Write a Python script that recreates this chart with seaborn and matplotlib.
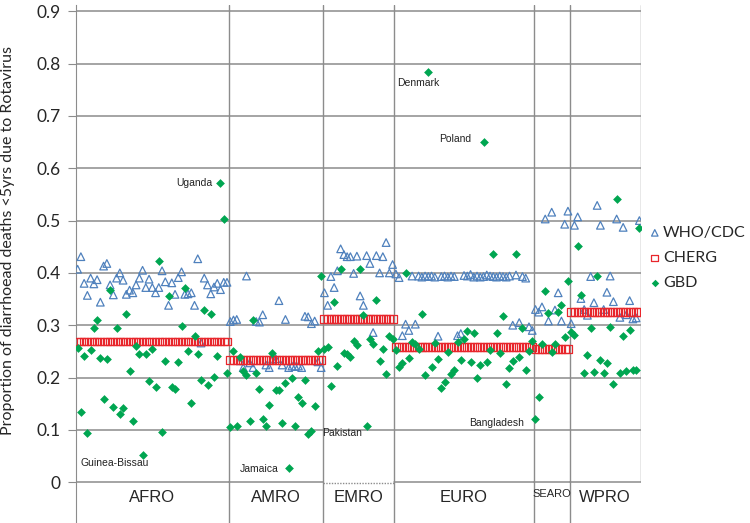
import numpy as np
import pandas as pd
import matplotlib
matplotlib.use("Agg")
import matplotlib.pyplot as plt
import seaborn as sns

# WHO regions and number of countries plotted in each
regions = ["AFRO", "AMRO", "EMRO", "EURO", "SEARO", "WPRO"]
region_counts = [47, 29, 22, 43, 11, 22]

# CHERG estimate is one value per region
cherg_region = [0.269, 0.234, 0.312, 0.259, 0.255, 0.326]

who_afro = [0.407, 0.431, 0.380, 0.357, 0.390, 0.379, 0.387, 0.344, 0.413, 0.418,
            0.377, 0.358, 0.390, 0.400, 0.386, 0.359, 0.367, 0.362, 0.377, 0.390,
            0.405, 0.372, 0.388, 0.372, 0.362, 0.372, 0.404, 0.383, 0.338, 0.381,
            0.359, 0.391, 0.402, 0.359, 0.360, 0.362, 0.338, 0.427, 0.266, 0.390,
            0.377, 0.360, 0.373, 0.380, 0.368, 0.382, 0.382]
who_amro = [0.307, 0.310, 0.311, 0.232, 0.219, 0.394, 0.228, 0.219, 0.307, 0.306,
            0.320, 0.224, 0.219, 0.235, 0.236, 0.347, 0.224, 0.311, 0.219, 0.222,
            0.221, 0.222, 0.219, 0.317, 0.316, 0.303, 0.308, 0.230, 0.219]
who_emro = [0.362, 0.338, 0.393, 0.372, 0.404, 0.446, 0.435, 0.431, 0.431, 0.399,
            0.432, 0.356, 0.338, 0.433, 0.418, 0.286, 0.433, 0.400, 0.431, 0.458,
            0.400, 0.416]
who_euro = [0.398, 0.391, 0.280, 0.302, 0.290, 0.394, 0.302, 0.394, 0.392, 0.394,
            0.393, 0.394, 0.392, 0.279, 0.393, 0.394, 0.392, 0.394, 0.393, 0.280,
            0.284, 0.395, 0.394, 0.397, 0.392, 0.394, 0.392, 0.393, 0.396, 0.394,
            0.393, 0.392, 0.394, 0.393, 0.392, 0.394, 0.300, 0.396, 0.305, 0.393,
            0.390, 0.297, 0.290]
who_searo = [0.330, 0.325, 0.335, 0.503, 0.308, 0.516, 0.329, 0.362, 0.308, 0.493,
             0.518]
who_wpro = [0.303, 0.491, 0.507, 0.351, 0.330, 0.319, 0.393, 0.343, 0.529, 0.491,
            0.330, 0.363, 0.394, 0.345, 0.503, 0.315, 0.487, 0.320, 0.347, 0.312,
            0.314, 0.500]

gbd_afro = [0.257, 0.134, 0.241, 0.094, 0.252, 0.294, 0.310, 0.237, 0.159, 0.235,
            0.367, 0.144, 0.294, 0.131, 0.141, 0.321, 0.212, 0.116, 0.260, 0.245,
            0.052, 0.245, 0.194, 0.254, 0.182, 0.423, 0.096, 0.231, 0.356, 0.182,
            0.178, 0.229, 0.298, 0.372, 0.250, 0.152, 0.279, 0.245, 0.195, 0.329,
            0.185, 0.321, 0.201, 0.241, 0.571, 0.503, 0.208]
gbd_amro = [0.105, 0.250, 0.107, 0.240, 0.213, 0.205, 0.116, 0.310, 0.208, 0.178,
            0.121, 0.107, 0.148, 0.246, 0.176, 0.177, 0.113, 0.189, 0.027, 0.199,
            0.108, 0.163, 0.152, 0.195, 0.092, 0.098, 0.145, 0.250, 0.394]
gbd_emro = [0.254, 0.259, 0.184, 0.345, 0.222, 0.408, 0.247, 0.245, 0.240, 0.269,
            0.263, 0.408, 0.319, 0.107, 0.273, 0.265, 0.349, 0.232, 0.254, 0.207,
            0.279, 0.273]
gbd_euro = [0.252, 0.220, 0.227, 0.399, 0.238, 0.268, 0.265, 0.255, 0.322, 0.204,
            0.783, 0.220, 0.266, 0.236, 0.180, 0.192, 0.249, 0.207, 0.214, 0.268,
            0.233, 0.274, 0.288, 0.229, 0.286, 0.200, 0.224, 0.651, 0.230, 0.252,
            0.437, 0.286, 0.247, 0.317, 0.187, 0.218, 0.232, 0.436, 0.240, 0.294,
            0.215, 0.250, 0.270]
gbd_searo = [0.120, 0.163, 0.265, 0.366, 0.324, 0.249, 0.265, 0.326, 0.339, 0.277,
             0.385]
gbd_wpro = [0.287, 0.282, 0.451, 0.357, 0.209, 0.243, 0.294, 0.210, 0.395, 0.233,
            0.208, 0.228, 0.296, 0.187, 0.542, 0.209, 0.280, 0.212, 0.291, 0.214,
            0.215, 0.486]

# labelled countries: (name, region, position within region)
labels = [("Guinea-Bissau", "AFRO", 20), ("Uganda", "AFRO", 44),
          ("Jamaica", "AMRO", 18), ("Pakistan", "EMRO", 13),
          ("Denmark", "EURO", 10), ("Poland", "EURO", 27),
          ("Bangladesh", "SEARO", 0)]

who = who_afro + who_amro + who_emro + who_euro + who_searo + who_wpro
gbd = gbd_afro + gbd_amro + gbd_emro + gbd_euro + gbd_searo + gbd_wpro
cherg = np.repeat(cherg_region, region_counts)
n = len(who)
df = pd.DataFrame({"country": np.arange(n), "WHO/CDC": who, "CHERG": cherg, "GBD": gbd})

blue = "#4f81bd"
red = "#e8262c"
green = "#00a651"
grid = "#8c8c8c"

sns.set_style("white")
plt.rcParams["font.family"] = ["Liberation Sans", "DejaVu Sans"]

fig = plt.figure(figsize=(7.5, 5.23), dpi=100)
ax = fig.add_axes([76 / 750, 0, (641 - 76) / 750, 518 / 523])
ax.set_xlim(-0.5, n - 0.5)
ax.set_ylim(-0.078, 0.912)

bounds = np.cumsum(region_counts) - 0.5
starts = np.concatenate([[0], np.cumsum(region_counts)[:-1]]) - 0.5

# gridlines and region separators (zero line is dotted under EMRO)
for v in np.arange(0.1, 0.91, 0.1):
    ax.axhline(v, color=grid, lw=1.1, zorder=0)
for name, s0, b in zip(regions, starts, bounds):
    if name == "EMRO":
        ax.plot([s0, b], [-0.002, -0.002], color=grid, lw=1.0, ls=(0, (1, 1)), zorder=0)
    else:
        ax.plot([s0, b], [0, 0], color=grid, lw=1.1, zorder=0)
for b in bounds[:-1]:
    ax.axvline(b, color=grid, lw=1.0, zorder=0)
ax.plot([bounds[-1], bounds[-1]], [0, 0.912], color=grid, lw=1.0, zorder=0)

sns.scatterplot(data=df, x="country", y="WHO/CDC", marker="^", s=30, color=blue,
                linewidth=0.9, ax=ax, legend=False, zorder=3)
c_who = ax.collections[-1]
c_who.set_facecolor("none")
c_who.set_edgecolor(blue)
sns.scatterplot(data=df, x="country", y="CHERG", marker="s", s=32, color=red,
                linewidth=0.9, ax=ax, legend=False, zorder=4)
c_cherg = ax.collections[-1]
c_cherg.set_facecolor("none")
c_cherg.set_edgecolor(red)
sns.scatterplot(data=df, x="country", y="GBD", marker="D", s=20, color=green,
                linewidth=0, ax=ax, legend=False, zorder=5)
c_gbd = ax.collections[-1]

# region names under the axis
for name, s0, b in zip(regions, starts, bounds):
    if name == "SEARO":
        ax.text((s0 + b) / 2, -0.023, name, ha="center", va="center", fontsize=8,
                fontstretch="condensed")
    else:
        ax.text((s0 + b) / 2, -0.029, name, ha="center", va="center", fontsize=12)

# country labels
offsets = {"Guinea-Bissau": (-44.6, -5.8, "left"), "Uganda": (-5.8, 0, "right"),
           "Jamaica": (-7, -0.8, "right"), "Pakistan": (-32, -4.8, "left"),
           "Denmark": (-22.3, -7.3, "left"), "Poland": (-8.5, 1.5, "right"),
           "Bangladesh": (-8, -2.5, "right")}
for name, reg, pos in labels:
    i = int(starts[regions.index(reg)] + 0.5) + pos
    dx, dy, ha = offsets[name]
    ax.annotate(name, (i, gbd[i]), xytext=(dx, dy), textcoords="offset points",
                ha=ha, va="center", fontsize=7.5, color="#222222")

ax.set_xticks([])
ax.set_yticks(np.arange(0, 0.91, 0.1))
ax.set_yticklabels(["0"] + [f"{v:.1f}" for v in np.arange(0.1, 0.91, 0.1)],
                   fontsize=12.5, family="Lato")
ax.tick_params(axis="y", length=6, color=grid, pad=5, left=True)
ax.set_ylabel("Proportion of diarrhoead deaths <5yrs due to Rotavirus",
              fontsize=11.5, family="Lato")
ax.yaxis.set_label_coords(-0.108, 0.545)
for side in ["top", "right", "bottom"]:
    ax.spines[side].set_visible(False)
ax.spines["left"].set_color(grid)

fig.legend([c_who, c_cherg, c_gbd], ["WHO/CDC", "CHERG", "GBD"],
           loc="center left", bbox_to_anchor=(650 / 750, 1 - 258 / 523),
           frameon=False, handlelength=0.6, handletextpad=0.2, labelspacing=0.68,
           borderpad=0, borderaxespad=0, prop={"family": "Lato", "size": 11.5},
           scatterpoints=1, markerscale=0.85)

fig.savefig("out.png", dpi=100)
